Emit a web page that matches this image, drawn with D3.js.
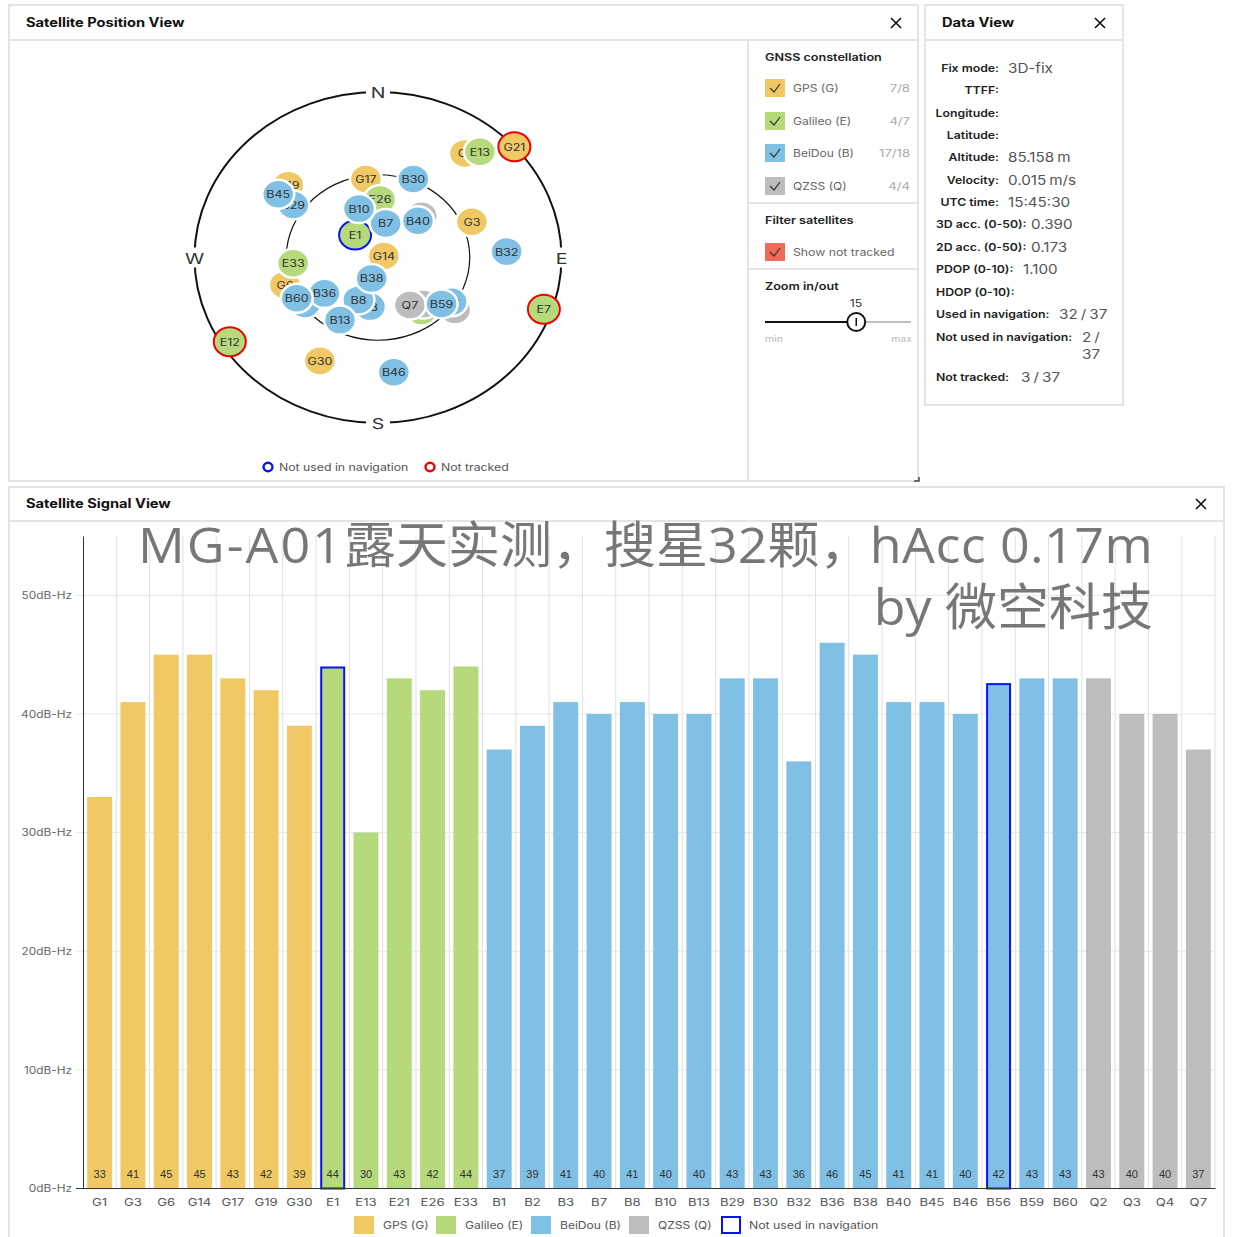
<!DOCTYPE html>
<html>
<head>
<meta charset="utf-8">
<script src="https://cdn.jsdelivr.net/npm/d3@7"></script>
<style>
  html, body { margin: 0; padding: 0; background: #fff; }
  svg { display: block; }
  text { font-family: Inter, "Noto Sans", sans-serif; }
</style>
</head>
<body>
<script>
// signal view
const sats = ['G1','G3','G6','G14','G17','G19','G30','E1','E13','E21','E26','E33',
  'B1','B2','B3','B7','B8','B10','B13','B29','B30','B32','B36','B38','B40','B45','B46','B56','B59','B60',
  'Q2','Q3','Q4','Q7'];
const cno = [33,41,45,45,43,42,39,44,30,43,42,44,
  37,39,41,40,41,40,40,43,43,36,46,45,41,41,40,42.6,43,43,
  43,40,40,37];
const notUsed = ['E1','B56'];
const yTicks = [0,10,20,30,40,50];

// constellations
const gnssNames = ['GPS (G)','Galileo (E)','BeiDou (B)','QZSS (Q)'];
const gnssCounts = ['7/8','4/7','17/18','4/4'];
const gnssPrefix = ['G','E','B','Q'];
const gnssColors = ['#f0c965','#b5d97b','#80c0e4','#bdbdbd'];

// sky view, in draw order (az deg, el deg)
const skyIds = ['G1','G3','G6','G14','G17','G19','G30',
  'E1','E13','E21','E26','E33',
  'Q2','Q3','Q4','Q7',
  'B1','B2','B3','B36','B29','B45','B30','B32','B40','B7','B8','B38','B10','B13','B60','B46','B59',
  'G21','E7','E12'];
const skyAz = [37,67.1,251.9,74.6,352.1,311.8,206.9,
  317.4,41,143.6,1.8,265.7,
  138.7,43.3,127,148.8,
  234.8,123.7,188.4,233.4,304.5,305.1,22.1,87.1,44.4,11.5,202.6,195.3,340.7,208.7,240.9,172.9,129,
  48,109.1,237.8];
const skyEl = [19.1,40,42,87,46.9,31,27,
  73.4,13.8,53.9,58.4,48.3,
  56.3,58.8,42.7,59.8,
  46.2,46.6,63,57.3,39.6,30.2,43.9,26.8,62,71.1,65,78.2,61.8,51.2,44.4,27.1,49.9,
  0,3.9,4.1];
const skyNotTracked = ['G21','E7','E12'];
const compass = ['N','E','S','W'];

// data view
const infoLabels = ['Fix mode:','TTFF:','Longitude:','Latitude:','Altitude:','Velocity:','UTC time:',
  '3D acc. (0-50):','2D acc. (0-50):','PDOP (0-10):','HDOP (0-10):','Used in navigation:','Not used in navigation:','Not tracked:'];
const infoValues = ['3D-fix','','','','85.158 m','0.015 m/s','15:45:30',
  '0.390','0.173','1.100','','32 / 37','2 /','3 / 37'];

const stretch = 1.17; // the screenshot is wider than tall
const BLUE = '#0a14f0', RED = '#f00000';

var svg = d3.select('body').append('svg').attr('width', 1237).attr('height', 1237);

function label(g, x, y, str, o) {
  o = o || {};
  return g.append('text')
    .text(str)
    .attr('transform', 'translate(' + x + ',' + y + ') scale(' + (o.sx || stretch) + ',1)')
    .attr('text-anchor', o.anchor || 'start')
    .attr('font-size', o.size || 11)
    .attr('font-weight', o.weight || 400)
    .attr('fill', o.fill || '#555');
}

function panel(x, y, w, h, title, headY, closeX) {
  svg.append('rect').attr('x', x).attr('y', y).attr('width', w).attr('height', h)
    .attr('fill', '#fff').attr('stroke', '#e4e4e4').attr('stroke-width', 2);
  svg.append('line').attr('x1', x).attr('x2', x + w).attr('y1', headY).attr('y2', headY)
    .attr('stroke', '#e4e4e4').attr('stroke-width', 2);
  label(svg, x + 17, headY - 13, title, {size: 12.5, weight: 700, fill: '#111'});
  svg.append('path')
    .attr('d', d3.line()([[closeX - 5, headY - 22], [closeX + 5, headY - 12]]) + d3.line()([[closeX + 5, headY - 22], [closeX - 5, headY - 12]]))
    .attr('stroke', '#111').attr('stroke-width', 1.6).attr('fill', 'none');
}

panel(9, 5, 909, 476, 'Satellite Position View', 40, 896);
panel(925, 5, 198, 400, 'Data View', 40, 1100);
panel(9, 487, 1215, 760, 'Satellite Signal View', 521, 1201);

svg.append('path').attr('d', 'M914,481H919V477').attr('fill', 'none').attr('stroke', '#444').attr('stroke-width', 1.5);

function colorOf(id) {
  return gnssColors[gnssPrefix.indexOf(id[0])];
}

// ---- sky plot
function skyPlot() {
  const cx = 378, cy = 257.5, rx = 183.5, ry = 165.5;
  const rr = d3.scaleLinear().domain([90, 0]).range([0, 1]);
  const g = svg.append('g');

  [0, 45].forEach(el => {
    g.append('ellipse').attr('cx', cx).attr('cy', cy)
      .attr('rx', rx * rr(el)).attr('ry', ry * rr(el))
      .attr('fill', 'none').attr('stroke', '#111').attr('stroke-width', el == 0 ? 2 : 1.2);
  });

  compass.forEach((d, i) => {
    const a = i * Math.PI / 2;
    const px = cx + rx * Math.sin(a), py = cy - ry * Math.cos(a);
    g.append('rect').attr('x', px - 12).attr('y', py - 10).attr('width', 24).attr('height', 20).attr('fill', '#fff');
    label(g, px, py + 6, d, {size: 15, anchor: 'middle', fill: '#333', sx: 1.3});
  });

  const sat = g.selectAll('g.sat').data(skyIds).enter().append('g')
    .attr('class', 'sat')
    .attr('transform', (d, i) => {
      const a = skyAz[i] * Math.PI / 180, r = rr(skyEl[i]);
      return 'translate(' + (cx + rx * r * Math.sin(a)) + ',' + (cy - ry * r * Math.cos(a)) + ')';
    });

  sat.append('ellipse')
    .attr('rx', 16).attr('ry', 14.5)
    .attr('fill', d => colorOf(d))
    .attr('stroke', d => skyNotTracked.includes(d) ? RED : notUsed.includes(d) ? BLUE : '#fff')
    .attr('stroke-width', d => skyNotTracked.includes(d) || notUsed.includes(d) ? 2 : 2.5);

  sat.each(function(d) {
    label(d3.select(this), 0, 4, d, {size: 10, anchor: 'middle', fill: '#333', sx: 1.25});
  });

  // legend under the plot
  [[268, BLUE, 'Not used in navigation'], [430, RED, 'Not tracked']].forEach(d => {
    g.append('ellipse').attr('cx', d[0]).attr('cy', 467).attr('rx', 4.5).attr('ry', 4.2)
      .attr('fill', '#fff').attr('stroke', d[1]).attr('stroke-width', 2.4);
    label(g, d[0] + 11, 471, d[2], {size: 10.5});
  });
}

// ---- side controls
function checkbox(g, x, yc, color) {
  g.append('rect').attr('x', x).attr('y', yc - 9).attr('width', 20).attr('height', 18).attr('fill', color);
  g.append('path').attr('d', d3.line()([[x + 5, yc], [x + 9, yc + 4], [x + 15, yc - 4]]))
    .attr('fill', 'none').attr('stroke', '#333').attr('stroke-width', 1.2);
}

function sidebar() {
  const g = svg.append('g');
  const line = (x1, y1, x2, y2) => g.append('line').attr('x1', x1).attr('y1', y1).attr('x2', x2).attr('y2', y2)
    .attr('stroke', '#e4e4e4').attr('stroke-width', 2);
  line(748, 40, 748, 481);
  line(748, 203, 918, 203);
  line(748, 269, 918, 269);

  const head = {size: 10.5, weight: 600, fill: '#222', sx: 1.2};
  label(g, 765, 61, 'GNSS constellation', head);
  const rowY = [88, 121, 153, 186];
  gnssNames.forEach((d, i) => {
    checkbox(g, 765, rowY[i], gnssColors[i]);
    label(g, 793, rowY[i] + 4, d, {size: 10.5, fill: '#666', sx: 1.15});
    label(g, 910, rowY[i] + 4, gnssCounts[i], {size: 10.5, anchor: 'end', fill: '#aaa', sx: 1.25});
  });

  label(g, 765, 224, 'Filter satellites', head);
  checkbox(g, 765, 252, '#f2695a');
  label(g, 793, 256, 'Show not tracked', {size: 10.5, fill: '#666'});

  label(g, 765, 290, 'Zoom in/out', head);
  label(g, 856, 307, '15', {size: 10.5, anchor: 'middle', fill: '#333'});
  const slider = d3.scaleLinear().domain([0, 24]).range([765, 911]);
  g.append('line').attr('x1', slider(0)).attr('x2', slider(24)).attr('y1', 322).attr('y2', 322).attr('stroke', '#aaa').attr('stroke-width', 1.5);
  g.append('line').attr('x1', slider(0)).attr('x2', slider(15)).attr('y1', 322).attr('y2', 322).attr('stroke', '#111').attr('stroke-width', 2);
  g.append('circle').attr('cx', slider(15)).attr('cy', 322).attr('r', 9).attr('fill', '#fff').attr('stroke', '#111').attr('stroke-width', 2);
  g.append('line').attr('x1', slider(15)).attr('x2', slider(15)).attr('y1', 318).attr('y2', 326).attr('stroke', '#111').attr('stroke-width', 1.5);
  label(g, 765, 342, 'min', {size: 9, fill: '#bbb'});
  label(g, 912, 342, 'max', {size: 9, anchor: 'end', fill: '#bbb'});
}

// ---- data view
function dataView() {
  const g = svg.append('g');
  const rowY = [68, 90, 113, 135, 157, 180, 202, 224, 247, 269, 292, 314, 337, 377];
  const valX = [1008, 1008, 1008, 1008, 1008, 1008, 1008, 1031, 1031, 1023, 1023, 1059, 1082, 1021];
  infoLabels.forEach((d, i) => {
    if (i < 7) label(g, 999, rowY[i] + 4, d, {size: 10.5, weight: 600, anchor: 'end', fill: '#222'});
    else label(g, 936, rowY[i] + 4, d, {size: 10.5, weight: 600, fill: '#222'});
    label(g, valX[i], rowY[i] + 5, infoValues[i], {size: 13, fill: '#555'})
      .style('word-spacing', '-1px');
  });
  label(g, 1082, 359, '37', {size: 13, fill: '#555'});
}

// ---- signal bars
function signalView() {
  const x = d3.scaleBand().domain(sats).range([83, 1215]).paddingInner(0.25).paddingOuter(0.125);
  const y = d3.scaleLinear().domain([0, 55]).range([1188.5, 536]);
  const g = svg.append('g');

  // vertical grid at the band edges
  g.selectAll('line.vgrid').data(sats).enter().append('line')
    .attr('class', 'vgrid')
    .attr('x1', d => x(d) + x.bandwidth() + x.step() * 0.125)
    .attr('x2', d => x(d) + x.bandwidth() + x.step() * 0.125)
    .attr('y1', y(55)).attr('y2', y(0))
    .attr('stroke', '#e0e0e0');

  g.selectAll('line.hgrid').data(yTicks.slice(1)).enter().append('line')
    .attr('class', 'hgrid')
    .attr('x1', 76).attr('x2', 1215)
    .attr('y1', d => y(d)).attr('y2', d => y(d))
    .attr('stroke', '#e6e6e6');

  // watermark
  const wm = {fill: '#777', sx: 1.04, anchor: 'end', size: 50};
  const line1 = label(g, 1153, 563, '', wm)
    .style('font-family', '"Open Sans","Noto Sans CJK SC",sans-serif');
  line1.append('tspan').text('MG-A01').attr('letter-spacing', 2);
  line1.append('tspan').text('露天实测，搜星32颗，');
  line1.append('tspan').text(' hAcc 0.17m').attr('dx', -15).attr('letter-spacing', 0.4);
  label(g, 1153, 625, 'by 微空科技', wm)
    .style('font-family', '"Open Sans","Noto Sans CJK SC",sans-serif');

  // the blue outline sits inside the bar
  const inset = d => notUsed.includes(d) ? 1 : 0;
  g.selectAll('rect.bar').data(sats).enter().append('rect')
    .attr('class', 'bar')
    .attr('x', d => x(d) + inset(d))
    .attr('width', d => x.bandwidth() - 2 * inset(d))
    .attr('y', (d, i) => y(cno[i]) + inset(d))
    .attr('height', (d, i) => y(0) - y(cno[i]) - inset(d))
    .attr('fill', d => colorOf(d))
    .attr('stroke', d => notUsed.includes(d) ? BLUE : 'none')
    .attr('stroke-width', 2);

  sats.forEach((d, i) => {
    label(g, x(d) + x.bandwidth() / 2, 1178, Math.floor(cno[i]), {size: 11, anchor: 'middle', fill: '#333', sx: 1})
      .style('font-family', '"Liberation Sans",sans-serif');
  });

  const xAxis = g.append('g').attr('transform', 'translate(0,1188)')
    .call(d3.axisBottom(x).tickSize(0).tickPadding(11));
  xAxis.select('.domain').attr('stroke', '#333');
  xAxis.selectAll('text')
    .attr('transform', 'scale(1.25,1)')
    .attr('font-size', 10.5).attr('font-family', 'Inter').attr('fill', '#555');

  const yAxis = g.append('g').attr('transform', 'translate(83,0)')
    .call(d3.axisLeft(y).tickValues(yTicks).tickSize(0).tickFormat(d => d + 'dB-Hz'));
  yAxis.select('.domain').attr('stroke', '#333');
  yAxis.selectAll('text')
    .attr('x', 0)
    .attr('transform', 'translate(-11,0) scale(1.13,1)')
    .attr('font-size', 10.5).attr('font-family', 'Inter').attr('fill', '#666');
  g.append('line').attr('x1', 76).attr('x2', 83).attr('y1', y(0)).attr('y2', y(0)).attr('stroke', '#333');

  // legend
  const lx = [354, 436, 531, 629];
  gnssNames.forEach((d, i) => {
    g.append('rect').attr('x', lx[i]).attr('y', 1216).attr('width', 20).attr('height', 18).attr('fill', gnssColors[i]);
    label(g, lx[i] + 29, 1229, d, {size: 10.5, sx: 1.15});
  });
  g.append('rect').attr('x', 722).attr('y', 1217).attr('width', 18).attr('height', 16)
    .attr('fill', '#fff').attr('stroke', BLUE).attr('stroke-width', 2);
  label(g, 749, 1229, 'Not used in navigation', {size: 10.5});
}

signalView();
skyPlot();
sidebar();
dataView();
</script>
</body>
</html>
